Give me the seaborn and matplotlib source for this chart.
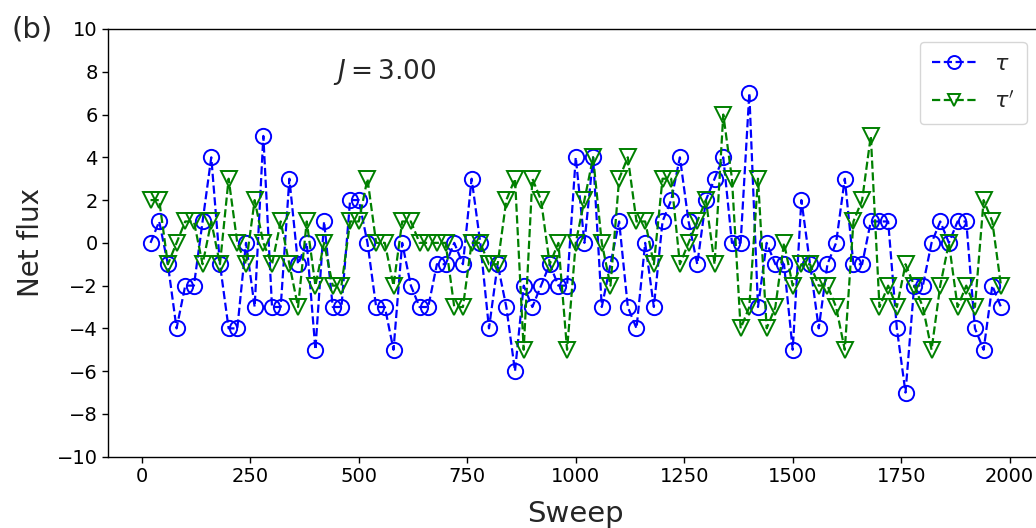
import numpy as np
import pandas as pd
import matplotlib
matplotlib.use("Agg")
import matplotlib.pyplot as plt
import seaborn as sns

sweeps = list(range(20, 2000, 20))

tau = [0, 1, -1, -4, -2, -2, 1, 4, -1, -4,
       -4, 0, -3, 5, -3, -3, 3, -1, 0, -5,
       1, -3, -3, 2, 2, 0, -3, -3, -5, 0,
       -2, -3, -3, -1, -1, 0, -1, 3, 0, -4,
       -1, -3, -6, -2, -3, -2, -1, -2, -2, 4,
       0, 4, -3, -1, 1, -3, -4, 0, -3, 1,
       2, 4, 1, -1, 2, 3, 4, 0, 0, 7,
       -3, 0, -1, -1, -5, 2, -1, -4, -1, 0,
       3, -1, -1, 1, 1, 1, -4, -7, -2, -2,
       0, 1, 0, 1, 1, -4, -5, -2, -3]

tau_p = [2, 2, -1, 0, 1, 1, -1, 1, -1, 3,
         0, -1, 2, 0, -1, 1, -1, -3, 1, -2,
         0, -2, -2, 1, 1, 3, 0, 0, -2, 1,
         1, 0, 0, 0, 0, -3, -3, 0, 0, -1,
         -1, 2, 3, -5, 3, 2, -1, 0, -5, 0,
         2, 4, 0, -2, 3, 4, 1, 1, -1, 3,
         3, -1, 0, 1, 2, -1, 6, 3, -4, -3,
         3, -4, -3, 0, -2, -1, -1, -2, -2, -3,
         -5, 1, 2, 5, -3, -2, -3, -1, -2, -3,
         -5, -2, 0, -3, -2, -3, 2, 1, -2]

y_ticks = list(range(-10, 11, 2))
x_ticks = list(range(0, 2001, 250))

df = pd.DataFrame({"Sweep": sweeps, "tau": tau, "tau_p": tau_p})

sns.set_style("ticks")
plt.rcParams['font.family'] = ['DejaVu Sans']
plt.rcParams['mathtext.fontset'] = 'dejavusans'

fig = plt.figure(figsize=(10.36, 5.28), dpi=100)
ax = fig.add_axes([108/1036, (528-456.7)/528, (1043.5-108)/1036, (456.7-29)/528])

sns.lineplot(data=df, x="Sweep", y="tau", ax=ax, color="blue", linestyle="--",
             marker="o", markersize=11, markerfacecolor="none", markeredgecolor="blue",
             markeredgewidth=1.4, linewidth=1.6, label=r"$\tau$")
sns.lineplot(data=df, x="Sweep", y="tau_p", ax=ax, color="green", linestyle="--",
             marker="v", markersize=11, markerfacecolor="none", markeredgecolor="green",
             markeredgewidth=1.4, linewidth=1.6, label=r"$\tau'$")

ax.set_ylim(-10, 10)
ax.set_yticks(y_ticks)
ax.set_xticks(x_ticks)
ax.tick_params(labelsize=14, length=4, width=1, colors="black")
for s in ax.spines.values():
    s.set_linewidth(1.0)
    s.set_color("black")
ax.set_xlabel("Sweep", fontsize=21, labelpad=10)
ax.set_ylabel("Net flux", fontsize=20, labelpad=8)

ax.text(440, 8.0, r"$J = 3.00$", fontsize=19, va="center", ha="left")
fig.text(0.011, 0.945, "(b)", fontsize=21, va="center", ha="left")

leg = ax.legend(loc="upper right", fontsize=16, frameon=True, handlelength=2.0,
                labelspacing=0.75, borderpad=0.55, handletextpad=0.8, markerscale=0.85,
                bbox_to_anchor=(0.994, 0.996))
leg.get_frame().set_edgecolor("#cccccc")

fig.savefig("out.png", dpi=100)
